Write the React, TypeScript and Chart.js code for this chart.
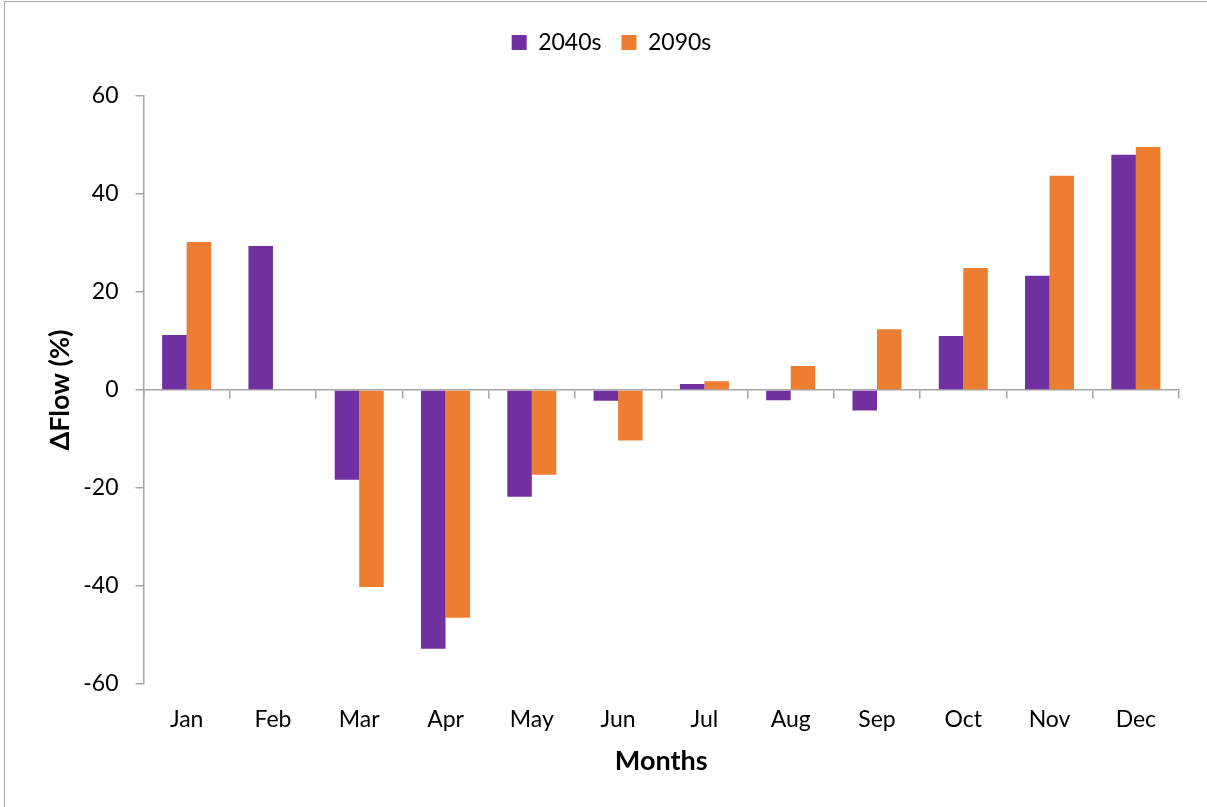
import React, { useEffect, useRef } from "react";
import { Chart, registerables } from "chart.js";

Chart.register(...registerables);

const months = ["Jan", "Feb", "Mar", "Apr", "May", "Jun", "Jul", "Aug", "Sep", "Oct", "Nov", "Dec"];
const flow2040s = [11.2, 29.4, -18.3, -52.8, -21.8, -2.2, 1.2, -2.1, -4.2, 11.0, 23.3, 48.0];
const flow2090s = [30.2, 0, -40.2, -46.5, -17.3, -10.3, 1.8, 4.9, 12.4, 24.9, 43.7, 49.6];
const yTicks = { min: -60, max: 60, step: 20 };

const FONT = "Lato, 'Open Sans', sans-serif";
const AXIS_GRAY = "#a6a6a6";

const legendTweak = {
  id: "legendTweak",
  beforeInit(chart: any) {
    const legend = chart.legend;
    if (!legend) return;
    const origFit = legend.fit;
    legend.fit = function () {
      origFit.call(this);
      this.height += 32;
    };
  },
  afterLayout(chart: any) {
    const legend = chart.legend;
    if (!legend) return;
    legend.left += 22;
    legend.right += 22;
  },
};

export default function App() {
  const ref = useRef<HTMLCanvasElement | null>(null);

  useEffect(() => {
    if (!ref.current) return;
    const chart = new Chart(ref.current, {
      type: "bar",
      data: {
        labels: months,
        datasets: [
          { label: "2040s", data: flow2040s, backgroundColor: "#7030A0", borderWidth: 0 },
          { label: "2090s", data: flow2090s, backgroundColor: "#ED7D31", borderWidth: 0 },
        ],
      },
      plugins: [legendTweak],
      options: {
        responsive: false,
        animation: false,
        datasets: { bar: { categoryPercentage: 0.568, barPercentage: 1 } },
        layout: { padding: { top: 11, right: 28, bottom: 0, left: 0 } },
        plugins: {
          tooltip: { enabled: false },
          legend: {
            position: "top",
            labels: {
              boxWidth: 15,
              boxHeight: 15,
              padding: 20,
              color: "#000",
              font: { family: FONT, size: 23 },
            },
          },
        },
        scales: {
          x: {
            type: "category",
            position: "bottom",
            offset: true,
            grid: { display: false },
            border: { display: false },
            ticks: { color: "#000", font: { family: FONT, size: 23 }, padding: 14, maxRotation: 0 },
            title: {
              display: true,
              text: "Months",
              color: "#000",
              font: { family: FONT, size: 27, weight: "bold" },
              padding: { top: 0, bottom: 30 },
            },
            afterFit: (s: any) => {
              s.height = 123;
            },
          },
          x2: {
            type: "category",
            position: { y: 0 } as any,
            offset: true,
            grid: { offset: true, drawOnChartArea: false, drawTicks: true, tickLength: 8, color: AXIS_GRAY, lineWidth: 1.5 },
            border: { display: true, color: AXIS_GRAY, width: 1.5 },
            ticks: { display: false },
          },
          y: {
            min: yTicks.min,
            max: yTicks.max,
            ticks: { stepSize: yTicks.step, color: "#000", font: { family: FONT, size: 23 }, padding: 17 },
            grid: { drawOnChartArea: false, drawTicks: true, tickLength: 8, color: AXIS_GRAY, lineWidth: 1.5 },
            border: { display: true, color: AXIS_GRAY, width: 1.5 },
            title: {
              display: true,
              text: "ΔFlow (%)",
              color: "#000",
              font: { family: FONT, size: 27, weight: "bold" },
              padding: { top: 44, bottom: 0 },
            },
            afterFit: (s: any) => {
              s.width = 143.5;
            },
          },
        },
      },
    });
    return () => chart.destroy();
  }, []);

  return (
    <div style={{ position: "fixed", left: 0, top: 0, width: 1207, height: 807, overflow: "hidden", background: "#fff" }}>
      <div
        style={{
          position: "absolute",
          left: 4,
          top: 1,
          width: 1300,
          height: 900,
          border: "1.5px solid #a6a6a6",
          boxSizing: "border-box",
        }}
      />
      <canvas ref={ref} width={1207} height={807} style={{ position: "absolute", left: 0, top: 0, display: "block" }} />
    </div>
  );
}
